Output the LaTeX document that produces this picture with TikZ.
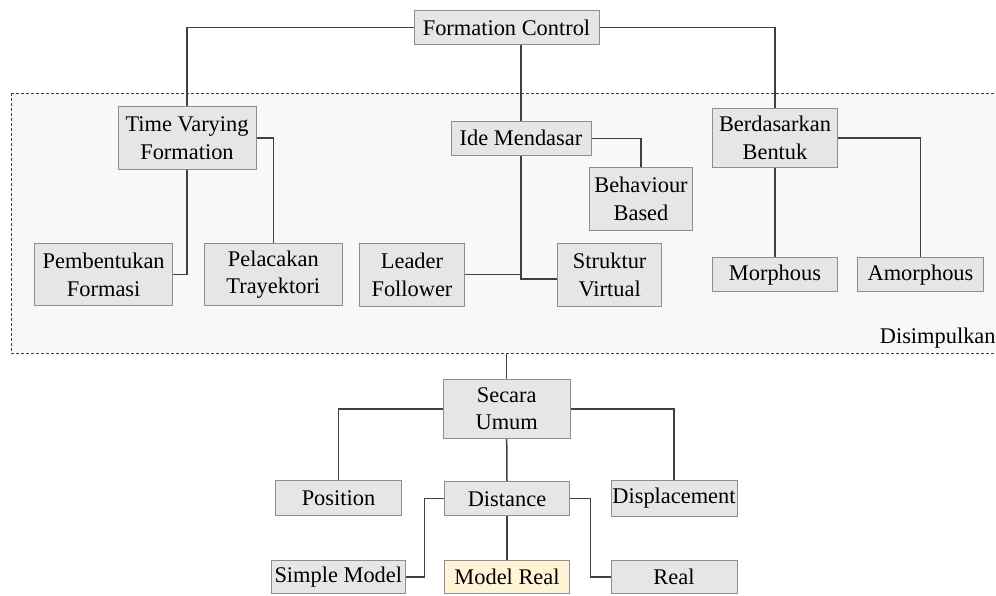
\documentclass[tikz,border=0pt]{standalone}
\usepackage{fontspec}
\setmainfont{Liberation Serif}
\usetikzlibrary{positioning, calc}
\definecolor{bfill}{HTML}{E6E6E6}
\definecolor{bline}{HTML}{8E8E8E}
\definecolor{lgray}{HTML}{404040}
\definecolor{rfill}{HTML}{F8F8F8}
\definecolor{yfill}{HTML}{FFF5D6}

\begin{document}
\begin{tikzpicture}[x=0.5pt, y=-0.5pt, font=\fontsize{11.2pt}{13.8pt}\selectfont,
  box/.style 2 args={draw=bline, fill=bfill, line width=.5pt, align=center, inner sep=.5pt, minimum width=#1, minimum height=#2},
  link/.style={draw=lgray, line width=.75pt}]

\clip (0,0) rectangle (996,595);

\draw[lgray, fill=rfill, line width=.5pt, dash pattern=on 1.5pt off 1pt] (11,93) rectangle (1020,353);
\coordinate (rbot) at (506.7,353);
\node[anchor=base east, inner sep=0pt] (dis) at (996,343) {Disimpulkan};

% upper part
\node[box={92.5pt}{17pt}] (fc) at (506.5,27.5) {Formation Control};
\node[box={69pt}{31.2pt}] (tvf) at (187,138) {Time Varying\\Formation};
\node[box={70pt}{16.7pt}] (ide) at (521,138.3) {Ide Mendasar};
\node[box={62.8pt}{29.7pt}] (bent) at (775,138) {Berdasarkan\\Bentuk};
\node[box={51.8pt}{31.2pt}] (beh) at (641,199) {Behaviour\\Based};
\node[box={69pt}{31pt}] (pemb) at (103.7,274.7) {Pembentukan\\Formasi};
\node[box={69.3pt}{31pt}] (pel) at (273.3,274.7) {Pelacakan\\Trayektori};
\node[box={52.2pt}{31.3pt}] (lead) at (412,274.7) {Leader\\Follower};
\node[box={52pt}{31.3pt}] (stru) at (609.7,274.7) {Struktur\\Virtual};
\node[box={62.8pt}{17pt}] (morph) at (775,274.7) {Morphous};
\node[box={62.8pt}{17pt}] (amor) at (920.5,274.7) {Amorphous};

\draw[link] (fc.west) -| (tvf.north);
\draw[link] (fc.east) -| (bent.north);
\draw[link] (fc.south -| ide.north) -- (ide.north);
\draw[link] (tvf.south) |- (pemb.east);
\draw[link] (tvf.east) -| (pel.north);
\draw[link] (ide.east) -| (beh.north);
\draw[link] (ide.south) |- ([yshift=-2.2pt]stru.west);
\draw[link] (lead.east) -- (lead.east -| ide.south);
\draw[link] (bent.south) -- (morph.north);
\draw[link] (bent.east) -| (amor.north);

% lower part
\node[box={63.3pt}{29.5pt}] (umum) at (506.7,408.8) {Secara\\Umum};
\node[box={63.2pt}{17.6pt}] (pos) at (338.5,498.3) {Position};
\node[box={62.8pt}{17pt}] (dist) at (507,498.7) {Distance};
\node[box={63pt}{18pt}] (disp) at (674,498) {Displacement};
\node[box={66.7pt}{16.8pt}] (simp) at (338.3,577) {Simple Model};
\node[box={62.8pt}{16.8pt}, fill=yfill] (mreal) at (507,577) {Model Real};
\node[box={63pt}{16.8pt}] (real) at (674,577) {Real};

\draw[link] (rbot) -- (umum.north);
\draw[link] (umum.west) -| (pos.north);
\draw[link] (umum.east) -| (disp.north);
\draw[link] (umum.south) -- (dist.north);
\draw[link] (dist.west) -- ++(-19.3,0) |- (simp.east);
\draw[link] (dist.east) -- ++(20,0) |- (real.west);
\draw[link] (dist.south) -- (mreal.north);

\end{tikzpicture}
\end{document}
